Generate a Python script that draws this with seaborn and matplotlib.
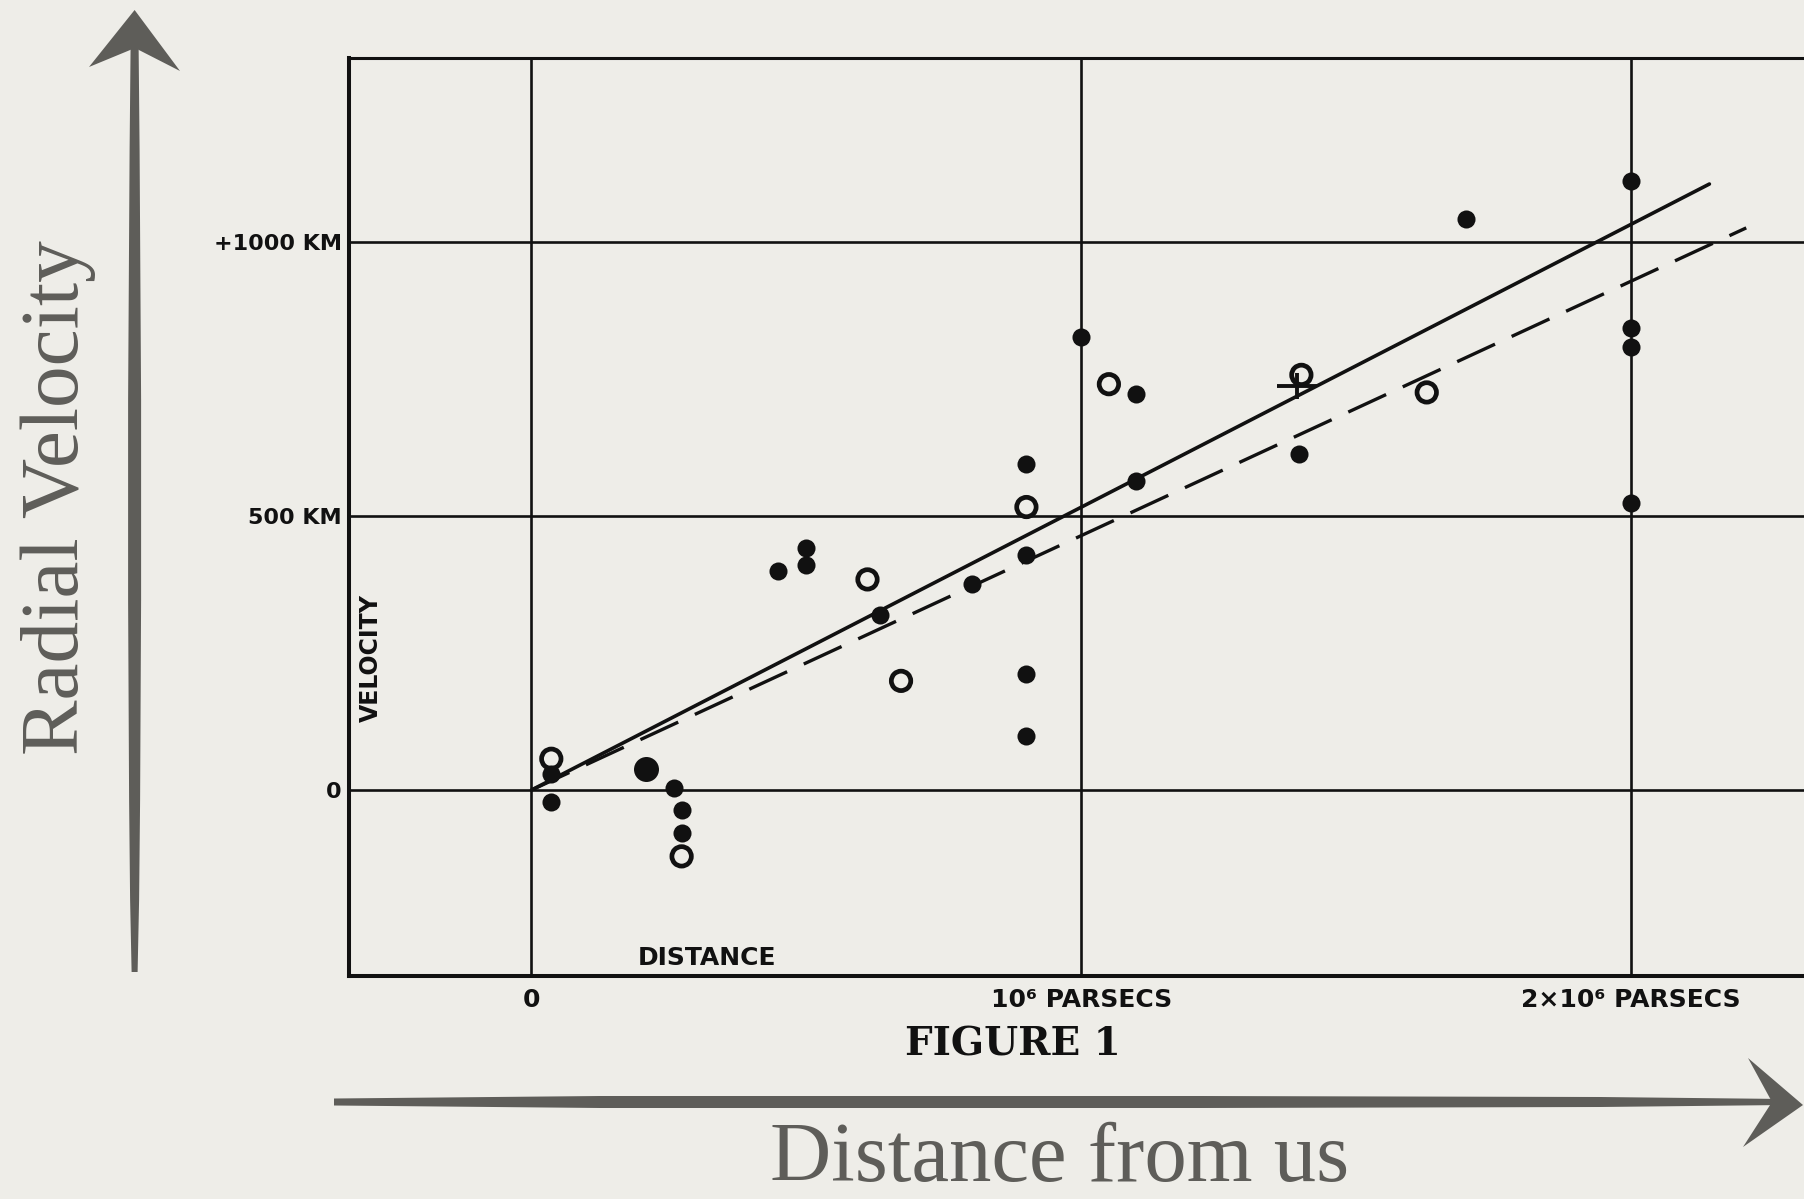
import matplotlib
matplotlib.use("Agg")
import matplotlib.pyplot as plt
from matplotlib.patches import Polygon
import seaborn as sns

# Distances in units of 10^6 parsecs, radial velocities in km/s
filled_dist = [0.036, 0.036, 0.259, 0.273, 0.273, 0.448, 0.500, 0.500, 0.634, 0.801,
               0.900, 0.900, 0.900, 0.900, 1.000, 1.100, 1.100, 1.395, 1.699,
               2.000, 2.000, 2.000, 2.000]
filled_vel = [-21, 29, 4, -37, -78, 400, 442, 411, 319, 375,
              595, 428, 212, 98, 826, 723, 564, 612, 1042,
              1111, 843, 807, 524]
big_dist = [0.209]
big_vel = [38]
open_dist = [0.036, 0.273, 0.611, 0.672, 0.900, 1.050, 1.400, 1.628]
open_vel = [57, -121, 384, 199, 516, 740, 757, 725]
cross_dist = [1.392]
cross_vel = [736]
solid_dist = [0.0, 2.142]
solid_vel = [0, 1105]
dashed_dist = [0.0, 2.209]
dashed_vel = [0, 1025]

x_ticks = [0, 1, 2]
x_labels = ["0", "10\u2076 PARSECS", "2\u00d710\u2076 PARSECS"]
y_ticks = [0, 500, 1000]
y_labels = ["0", "500 KM", "+1000 KM"]

W, H = 1804, 1199
PAPER = "#EEEDE8"
INK = "#111111"
BRUSH = "#5E5D59"

sns.set_theme(style="white")
plt.rcParams["font.family"] = ["DejaVu Sans"]

fig = plt.figure(figsize=(W / 100, H / 100), dpi=100, facecolor=PAPER)

left_px, right_px, top_px, bottom_px = 348.6, 1840.0, 57.5, 975.6
ax = fig.add_axes([left_px / W, 1 - bottom_px / H,
                   (right_px - left_px) / W, (bottom_px - top_px) / H])
ax.set_facecolor(PAPER)

# Reference grid at the labelled distances and velocities
ax.set_xticks(x_ticks)
ax.set_yticks(y_ticks)
ax.set_axisbelow(True)
ax.grid(True, color=INK, linewidth=1.9)
ax.set_xlim(-0.3326, 2.3795)
ax.set_ylim(-338.4, 1335.7)

# Fitted relations
sns.lineplot(x=solid_dist, y=solid_vel, ax=ax, color=INK, linewidth=2.6, zorder=3)
sns.lineplot(x=dashed_dist, y=dashed_vel, ax=ax, color=INK, linewidth=2.4, zorder=3)
ax.lines[-1].set_dashes([12.5, 5.5])

# Individual nebulae
sns.scatterplot(x=filled_dist, y=filled_vel, ax=ax, color=INK, s=13 ** 2,
                linewidth=0, zorder=4)
sns.scatterplot(x=big_dist, y=big_vel, ax=ax, color=INK, s=18 ** 2,
                linewidth=0, zorder=4)
sns.scatterplot(x=open_dist, y=open_vel, ax=ax, facecolor="none", edgecolor=INK,
                s=14 ** 2, linewidth=3.4, zorder=4)
# Mean of the grouped nebulae: a wide cross
sns.scatterplot(x=cross_dist, y=cross_vel, ax=ax, marker="_", color=INK, s=29 ** 2,
                linewidth=2.8, zorder=4)
sns.scatterplot(x=cross_dist, y=cross_vel, ax=ax, marker="|", color=INK, s=19 ** 2,
                linewidth=2.8, zorder=4)

ax.set_xticklabels(x_labels, fontsize=18, fontweight="bold", color=INK)
ax.set_yticklabels(y_labels, fontsize=16, fontweight="bold", color=INK)
ax.tick_params(axis="x", length=0, pad=9)
ax.tick_params(axis="y", length=0, pad=5)
ax.set_xlabel("")
ax.set_ylabel("")

for side in ["left", "bottom", "top"]:
    ax.spines[side].set_visible(True)
    ax.spines[side].set_color(INK)
ax.spines["left"].set_linewidth(2.9)
ax.spines["bottom"].set_linewidth(2.9)
ax.spines["top"].set_linewidth(2.2)
ax.spines["right"].set_visible(False)

ax.text(0.319, -306, "DISTANCE", fontsize=18, fontweight="bold", color=INK,
        ha="center", va="center")
ax.text(-0.292, 241, "VELOCITY", fontsize=17, fontweight="bold", color=INK,
        ha="center", va="center", rotation=90)


def fig_pt(x, y):
    return (x / W, 1 - y / H)


fig.text(*fig_pt(1013, 1045), "FIGURE 1", family=["DejaVu Serif"], fontsize=28,
         fontweight="bold", color=INK, ha="center", va="center")

# Brush-stroke axis arrows
v_profile = [(45, 4), (150, 5), (400, 6.5), (600, 6.5), (800, 5.5), (900, 4.5), (972, 3)]
vx = 134.6
v_left = [fig_pt(vx - hw, y) for y, hw in v_profile]
v_right = [fig_pt(vx + hw, y) for y, hw in reversed(v_profile)]
fig.add_artist(Polygon(v_left + v_right, closed=True, transform=fig.transFigure,
                       facecolor=BRUSH, edgecolor="none"))
fig.add_artist(Polygon([fig_pt(134.6, 10), fig_pt(180, 71), fig_pt(135, 48), fig_pt(89, 67)],
                       closed=True, transform=fig.transFigure,
                       facecolor=BRUSH, edgecolor="none"))

h_profile = [(334, 3.5), (600, 6), (1200, 6), (1600, 5), (1785, 3)]
hy = 1102
h_top = [fig_pt(x, hy - hw) for x, hw in h_profile]
h_bot = [fig_pt(x, hy + hw) for x, hw in reversed(h_profile)]
fig.add_artist(Polygon(h_top + h_bot, closed=True, transform=fig.transFigure,
                       facecolor=BRUSH, edgecolor="none"))
fig.add_artist(Polygon([fig_pt(1803, 1105), fig_pt(1748, 1058), fig_pt(1772, 1102),
                        fig_pt(1743, 1147)],
                       closed=True, transform=fig.transFigure,
                       facecolor=BRUSH, edgecolor="none"))

fig.text(78 / W, 1 - 497.5 / H, "Radial Velocity", family=["Liberation Serif"],
         fontsize=60, color=BRUSH, rotation=90, rotation_mode="anchor",
         ha="center", va="baseline")
fig.text(1060 / W, 1 - 1181 / H, "Distance from us", family=["Liberation Serif"],
         fontsize=61, color=BRUSH, ha="center", va="baseline")

fig.savefig("out.png", dpi=100, facecolor=PAPER)
